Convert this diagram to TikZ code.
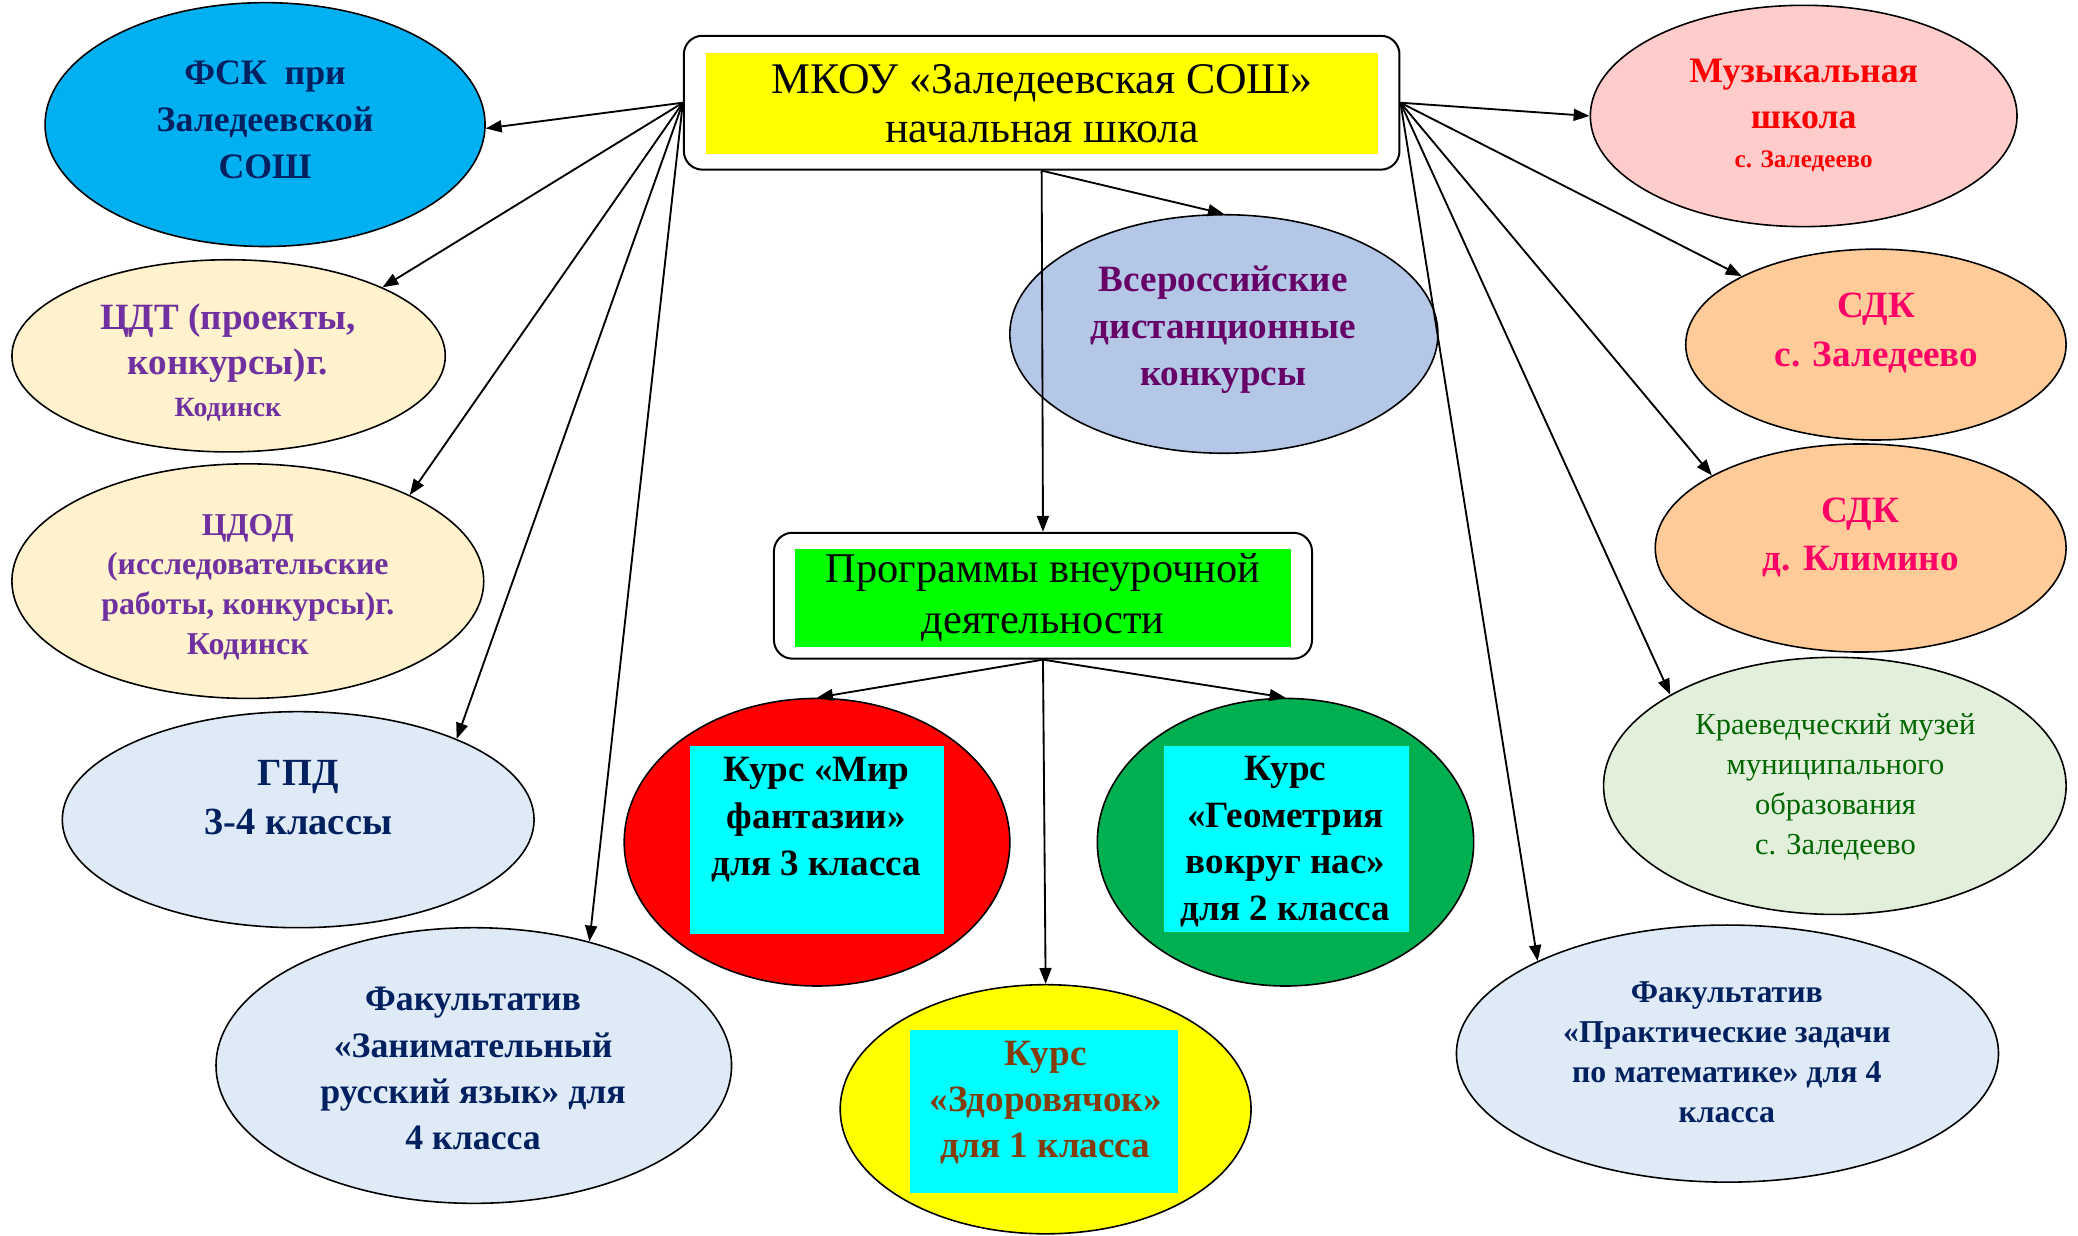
\documentclass[tikz,border=0pt]{standalone}
\usepackage{fontspec}
\setmainfont{Liberation Serif}
\usetikzlibrary{shapes.geometric,arrows.meta}
\definecolor{cFSK}{HTML}{00B0F0}
\definecolor{cNavy}{HTML}{002060}
\definecolor{cCream}{HTML}{FFF2CC}
\definecolor{cPurple}{HTML}{7030A0}
\definecolor{cPale}{HTML}{DEEAF6}
\definecolor{cVse}{HTML}{B4C7E7}
\definecolor{cPlum}{HTML}{660066}
\definecolor{cPink}{HTML}{FFCCCC}
\definecolor{cPeach}{HTML}{FFCC99}
\definecolor{cRose}{HTML}{FF0066}
\definecolor{cMint}{HTML}{E2EFDA}
\definecolor{cForest}{HTML}{006600}
\definecolor{cGreen}{HTML}{00B050}
\definecolor{cLime}{HTML}{00FF00}
\definecolor{cCyan}{HTML}{00FFFF}
\definecolor{cBrown}{HTML}{843C0C}
\definecolor{cYellow}{HTML}{FFFF00}
\newcommand\fsz[2]{\fontsize{#1}{#2}\selectfont}
\begin{document}
\begin{tikzpicture}[x=1pt,y=-1pt,
  ell/.style={ellipse, draw=black, line width=1.2pt, inner sep=0pt},
  lbl/.style={align=center, inner sep=0pt},
  conn/.style={line width=1.4pt, -{Triangle[length=12pt,width=9pt]}},
  obox/.style={draw=black, line width=1.5pt, rounded corners=14pt, fill=white, inner sep=0pt},
  ibox/.style={inner sep=0pt, draw=none, align=center},
]
\useasboundingbox (0,0) rectangle (1568,932);

% central boxes
\node[obox, minimum width=540pt, minimum height=101pt] (top) at (786,77.5) {};
\node[ibox, fill=cYellow, minimum width=507pt, minimum height=76pt, font=\fsz{33}{37}] (topIn) at (786.5,78) {МКОУ «Заледеевская СОШ»\\начальная школа};

\node[obox, minimum width=406pt, minimum height=95pt] (prog) at (787,449.5) {};
\node[ibox, fill=cLime, minimum width=374pt, minimum height=74pt, font=\fsz{32}{38}] (progIn) at (787,451) {Программы внеурочной\\деятельности};

% left ellipses
\node[ell, fill=cFSK, minimum width=332pt, minimum height=184pt] (fsk) at (200,94) {};
\node[lbl, text=cNavy, font=\bfseries\fsz{27}{35.5}] (fskT) at (200,90.5) {ФСК\ \ при\\Заледеевской\\СОШ};

\node[ell, fill=cCream, minimum width=327pt, minimum height=145pt] (cdt) at (172.5,268.5) {};
\node[lbl, text=cPurple, font=\bfseries\fsz{28}{34}] (cdtT) at (172,273.5) {ЦДТ (проекты,\\конкурсы)г.\\[-2pt]{\fsz{21}{26}Кодинск}};

\node[ell, fill=cCream, minimum width=356pt, minimum height=177pt] (cdod) at (187,438.5) {};
\node[lbl, text=cPurple, font=\bfseries\fsz{24}{30}] (cdodT) at (187,443) {ЦДОД\\(исследовательские\\работы, конкурсы)г.\\Кодинск};

\node[ell, fill=cPale, minimum width=356pt, minimum height=163pt] (gpd) at (225,618.5) {};
\node[lbl, text=cNavy, font=\bfseries\fsz{29}{37}] (gpdT) at (225,601.5) {ГПД\\3-4 классы};

\node[ell, fill=cPale, minimum width=389pt, minimum height=208pt] (fakL) at (357.5,804) {};
\node[lbl, text=cNavy, font=\bfseries\fsz{27}{35}] (fakLT) at (357,806.5) {Факультатив\\«Занимательный\\русский язык» для\\4 класса};

% middle
\node[ell, fill=cVse, minimum width=323pt, minimum height=180pt] (vse) at (923.5,252) {};
\node[lbl, text=cPlum, font=\bfseries\fsz{28}{35.5}] (vseT) at (923,249) {Всероссийские\\дистанционные\\конкурсы};

\node[ell, fill=red, minimum width=291pt, minimum height=217pt] (mir) at (616.5,635.5) {};
\node[ibox, fill=cCyan, minimum width=191pt, minimum height=142pt] (mirBox) at (616.5,634) {};
\node[lbl, text=black, font=\bfseries\fsz{28}{35.5}] (mirT) at (616,618.5) {Курс «Мир\\фантазии»\\для 3 класса};

\node[ell, fill=cGreen, minimum width=284pt, minimum height=217pt] (geo) at (970,635.5) {};
\node[ibox, fill=cCyan, minimum width=185pt, minimum height=140pt] (geoBox) at (970.5,633) {};
\node[lbl, text=black, font=\bfseries\fsz{28}{35}] (geoT) at (970,635) {Курс\\«Геометрия\\вокруг нас»\\для 2 класса};

\node[ell, fill=cYellow, minimum width=310pt, minimum height=188pt] (zdo) at (789,837) {};
\node[ibox, fill=cCyan, minimum width=202pt, minimum height=123pt] (zdoBox) at (788,838.5) {};
\node[lbl, text=cBrown, font=\bfseries\fsz{28}{35}] (zdoT) at (789,832) {Курс\\«Здоровячок»\\для 1 класса};

% right ellipses
\node[ell, fill=cPink, minimum width=322pt, minimum height=167pt] (muz) at (1361,87.5) {};
\node[lbl, text=red, font=\bfseries\fsz{27}{35}] (muzT) at (1361,87) {Музыкальная\\школа\\[-6pt]{\fsz{19}{24}с. Заледеево}};

\node[ell, fill=cPeach, minimum width=287pt, minimum height=144pt] (sdk1) at (1415.5,260) {};
\node[lbl, text=cRose, font=\bfseries\fsz{28}{37}] (sdk1T) at (1416,251) {СДК\\с. Заледеево};

\node[ell, fill=cPeach, minimum width=310pt, minimum height=157pt] (sdk2) at (1404,413.5) {};
\node[lbl, text=cRose, font=\bfseries\fsz{28}{36}] (sdk2T) at (1404,405.5) {СДК\\д. Климино};

\node[ell, fill=cMint, minimum width=349pt, minimum height=194pt] (kra) at (1384.5,593) {};
\node[lbl, text=cForest, font=\fsz{23}{30.3}] (kraT) at (1385,594) {Краеведческий музей\\муниципального\\образования\\с. Заледеево};

\node[ell, fill=cPale, minimum width=409pt, minimum height=194pt] (fakR) at (1303.5,795) {};
\node[lbl, text=cNavy, font=\bfseries\fsz{24}{30}] (fakRT) at (1303,794) {Факультатив\\«Практические задачи\\по математике» для 4\\класса};

% connectors
\draw[conn] (top.west) -- (fsk.-1);
\draw[conn] (top.west) -- (cdt.24);
\draw[conn] (top.west) -- (cdod.28);
\draw[conn] (top.west) -- (gpd.27);
\draw[conn] (top.west) -- (fakL.47);
\draw[conn] (top.east) -- (muz.180);
\draw[conn] (top.east) -- (sdk1.153);
\draw[conn] (top.east) -- (sdk2.154);
\draw[conn] (top.east) -- (kra.151);
\draw[conn] (top.east) -- (fakR.154);
\draw[conn] (top.south) -- (vse.north);
\draw[conn] (top.south) -- (prog.north);
\draw[conn] (prog.south) -- (mir.north);
\draw[conn] (prog.south) -- (geo.north);
\draw[conn] (prog.south) -- (zdo.north);
\end{tikzpicture}
\end{document}
